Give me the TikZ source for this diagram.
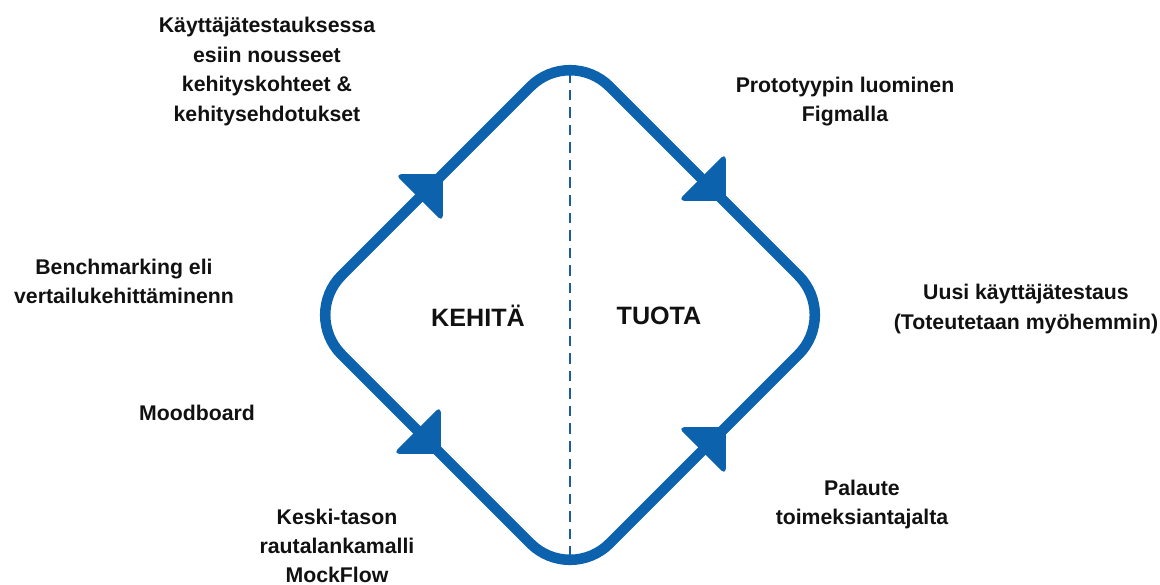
\documentclass[tikz,border=0pt]{standalone}
\usepackage{fontspec}
\setmainfont{Liberation Sans}
\definecolor{cycleblue}{HTML}{0D62AE}
\definecolor{splitblue}{HTML}{1A5C9E}
\definecolor{labeltext}{HTML}{111111}
\begin{document}
\begin{tikzpicture}[x=0.02cm,y=-0.02cm,
  loopline/.style={draw=cycleblue,line width=6pt,rounded corners=1.12cm,line join=round},
  splitline/.style={draw=splitblue,line width=1.4pt,dash pattern=on 6pt off 4pt},
  headtri/.style={fill=cycleblue,draw=cycleblue,line width=1pt,line join=round,rounded corners=2.5pt},
  label/.style={text=labeltext,font=\fontsize{12.1pt}{16.7pt}\selectfont\bfseries,align=center,inner sep=0pt},
  phase/.style={text=labeltext,font=\fontsize{14.3pt}{17pt}\selectfont\bfseries,inner sep=0pt}]
\useasboundingbox (0,0) rectangle (1160,585);

% corners of the cycle
\coordinate (top) at (570,47);
\coordinate (right) at (838,315);
\coordinate (bottom) at (570,583);
\coordinate (left) at (302,315);
\coordinate (splittop) at (570,72);
\coordinate (splitbot) at (570,558);

% the cycle and the divider
\draw[splitline] (splittop) -- (splitbot);
\draw[loopline] (top) -- (right) -- (bottom) -- (left) -- cycle;

% arrowheads along the cycle
\filldraw[headtri] (442,175) -- (397,175) -- (442,220) -- cycle;
\filldraw[headtri] (725,200) -- (725,155) -- (680,200) -- cycle;
\filldraw[headtri] (440,453) -- (440,408) -- (395,453) -- cycle;
\filldraw[headtri] (725,428) -- (680,428) -- (725,473) -- cycle;

% phase names
\node[phase] (kehita) at (478,316) {KEHITÄ};
\node[phase] (tuota) at (659,316) {TUOTA};

% step labels
\node[label] (kayttaja) at (267,71.5) {Käyttäjätestauksessa\\esiin nousseet\\kehityskohteet \&\\kehitysehdotukset};
\node[label] (proto) at (845,101.5) {Prototyypin luominen\\Figmalla};
\node[label] (bench) at (124,281.5) {Benchmarking eli\\vertailukehittäminenn};
\node[label] (uusi) at (1026,309) {Uusi käyttäjätestaus\\(Toteutetaan myöhemmin)};
\node[label] (mood) at (197,413) {Moodboard};
\node[label] (keski) at (337,546) {Keski-tason\\rautalankamalli\\MockFlow};
\node[label] (palaute) at (862,504.5) {Palaute\\toimeksiantajalta};
\end{tikzpicture}
\end{document}
